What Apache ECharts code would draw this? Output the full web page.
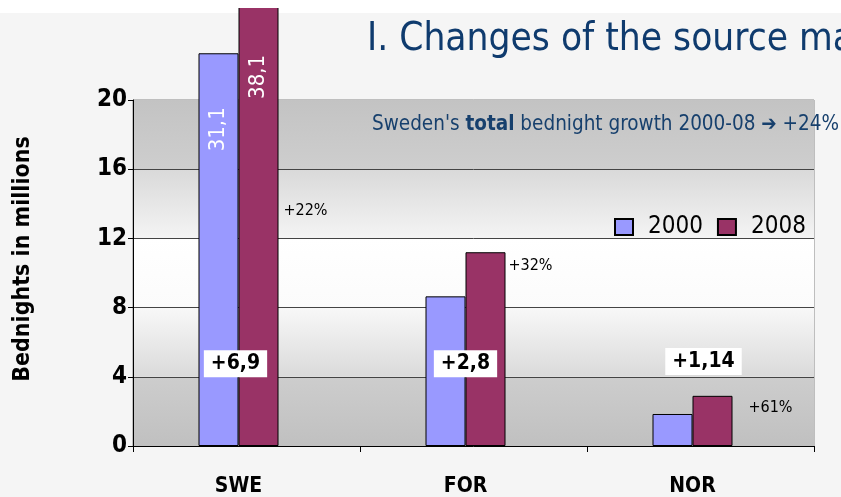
<!DOCTYPE html>
<html>
<head>
<meta charset="utf-8">
<script src="https://cdn.jsdelivr.net/npm/echarts@6/dist/echarts.min.js"></script>
<style>
  html, body { margin: 0; padding: 0; background: #f5f5f5; }
  #chart { width: 841px; height: 497px; }
</style>
</head>
<body>
<div id="chart"></div>
<script>
// Bednights by source market, millions
const categories = ['SWE', 'FOR', 'NOR'];
const seriesNames = ['2000', '2008'];
const values2000 = [31.1, 8.65, 1.85];
const values2008 = [38.1, 11.2, 2.9];
const diffLabels = ['+6,9', '+2,8', '+1,14'];
const growthLabels = ['+22%', '+32%', '+61%'];
const titleText = 'I. Changes of the source markets';
const noteText = "Sweden's {b|total} bednight growth 2000-08 {b|\u2794} +24%";
const axisTitle = 'Bednights in millions';

const FONT = '"DejaVu Sans Condensed", "DejaVu Sans", sans-serif';
const COLORS = ['#9999ff', '#993366'];

// Domestic (SWE) bars are far taller than the rest, so they get their own compressed scale
const domesticIndex = 0;
const onDomestic = (vals, own) => vals.map((v, i) => ((i === domesticIndex) === own ? v : null));
const commaNum = v => String(v).replace('.', ',');

// annotation anchors, in axis units, with a pixel nudge
const diffPlace = [{ y: 4.76, dx: -3 }, { y: 4.76, dx: 0 }, { y: 4.88, dx: 11 }];
const growthPlace = [{ y: 13.6, dx: 67 }, { y: 10.42, dx: 65 }, { y: 2.21, dx: 78 }];

const band = (top, bottom) => ({
  type: 'linear', x: 0, y: 0, x2: 0, y2: 1,
  colorStops: [{ offset: 0, color: top }, { offset: 1, color: bottom }]
});

const barStyle = (idx) => ({ color: COLORS[idx], borderColor: '#000', borderWidth: 1 });

const domesticLabel = (distance) => ({
  show: true, rotate: 90, position: 'insideTop', align: 'right', verticalAlign: 'middle',
  distance: distance, color: '#fff', fontSize: 22, fontFamily: FONT,
  formatter: p => (p.value == null ? '' : commaNum(p.value))
});

// invisible anchor points that only carry text
const textLayer = (texts, place, labelStyle) => ({
  type: 'scatter', xAxisIndex: 1, yAxisIndex: 1, silent: true, z: 10,
  symbolSize: 1, itemStyle: { color: 'rgba(0,0,0,0)', opacity: 1 },
  data: texts.map((t, i) => ({
    value: [i, place[i].y],
    label: { formatter: t, offset: [place[i].dx, 0] }
  })),
  label: Object.assign({ show: true, position: 'inside', color: '#000', fontFamily: FONT, opacity: 1 }, labelStyle)
});

const chart = echarts.init(document.getElementById('chart'), null, { renderer: 'canvas' });

chart.setOption({
  animation: false,
  backgroundColor: '#f5f5f5',
  title: {
    text: titleText, left: 362, top: 15,
    textStyle: { fontSize: 38.5, fontWeight: 'normal', color: '#0f3b6e', fontFamily: FONT }
  },
  legend: {
    data: seriesNames, left: 609, top: 210, itemWidth: 18, itemHeight: 16, itemGap: 14,
    icon: 'rect',
    textStyle: { fontSize: 24, color: '#000', fontFamily: FONT, padding: [0, 0, 0, 10] }
  },
  graphic: [
    { type: 'rect', left: 0, top: 0, z: 0, shape: { width: 841, height: 13 }, style: { fill: '#fff' } },
    { type: 'rect', left: 0, top: 0, z: 100, shape: { width: 841, height: 8 }, style: { fill: '#fff' } },
    {
      type: 'text', left: 372, top: 114, z: 50,
      style: {
        text: noteText, fill: '#17406d', fontSize: 20.5, fontFamily: FONT,
        rich: { b: { fontWeight: 'bold', fontSize: 20.5, fill: '#17406d', fontFamily: FONT } }
      }
    }
  ],
  grid: [
    { left: 133, right: 27, top: 100, bottom: 51, show: true, backgroundColor: 'transparent', borderColor: '#888', borderWidth: 1 },
    { left: 125, right: 35, top: 100, bottom: 51 }
  ],
  xAxis: [
    {
      type: 'category', gridIndex: 0, data: categories,
      axisLine: { lineStyle: { color: '#000' } },
      axisTick: { show: true, length: 6, lineStyle: { color: '#000' } },
      axisLabel: { show: false }
    },
    {
      type: 'category', gridIndex: 1, data: categories,
      axisLine: { show: false }, axisTick: { show: false }, splitLine: { show: false },
      axisLabel: { fontSize: 21, fontWeight: 'bold', color: '#000', margin: 30, fontFamily: FONT }
    },
    { type: 'category', gridIndex: 1, data: categories, show: false }
  ],
  yAxis: [
    {
      type: 'value', gridIndex: 0, min: 0, max: 20, interval: 4,
      axisLine: { show: true, lineStyle: { color: '#000' } },
      axisTick: { show: true, length: 5, lineStyle: { color: '#000' } },
      axisLabel: { fontSize: 24, fontWeight: 'bold', color: '#000', margin: 6, fontFamily: FONT },
      splitLine: { show: true, showMinLine: false, showMaxLine: false, lineStyle: { color: '#444' } },
      splitArea: {
        show: true,
        areaStyle: {
          color: [
            band('#cdcdcd', '#c0c0c0'),
            band('#f8f8f8', '#dadada'),
            band('#ffffff', '#fbfbfb'),
            band('#d9d9d9', '#f4f4f4'),
            band('#c3c3c3', '#cecece')
          ]
        }
      },
      name: axisTitle, nameLocation: 'middle', nameGap: 98, nameRotate: 90,
      nameTextStyle: { fontSize: 23, fontWeight: 'bold', color: '#000', fontFamily: FONT, padding: [0, 0, 0, 28] }
    },
    { type: 'value', gridIndex: 1, min: 0, max: 20, show: false },
    { type: 'value', gridIndex: 1, min: 0, max: 27.4, show: false }
  ],
  series: [
    {
      name: seriesNames[0], type: 'bar', xAxisIndex: 1, yAxisIndex: 1,
      data: onDomestic(values2000, false), barWidth: 40, barGap: '0%', itemStyle: barStyle(0)
    },
    {
      name: seriesNames[1], type: 'bar', xAxisIndex: 1, yAxisIndex: 1,
      data: onDomestic(values2008, false), barWidth: 40, barGap: '0%', itemStyle: barStyle(1)
    },
    {
      name: seriesNames[0], type: 'bar', xAxisIndex: 2, yAxisIndex: 2, clip: false,
      data: onDomestic(values2000, true), barWidth: 40, barGap: '0%', itemStyle: barStyle(0),
      label: domesticLabel(54)
    },
    {
      name: seriesNames[1], type: 'bar', xAxisIndex: 2, yAxisIndex: 2, clip: false,
      data: onDomestic(values2008, true), barWidth: 40, barGap: '0%', itemStyle: barStyle(1),
      label: domesticLabel(90)
    },
    textLayer(diffLabels, diffPlace, {
      fontSize: 21, fontWeight: 'bold', backgroundColor: '#fff', padding: [3, 7, 3, 7]
    }),
    textLayer(growthLabels, growthPlace, { fontSize: 16 })
  ]
});
</script>
</body>
</html>
